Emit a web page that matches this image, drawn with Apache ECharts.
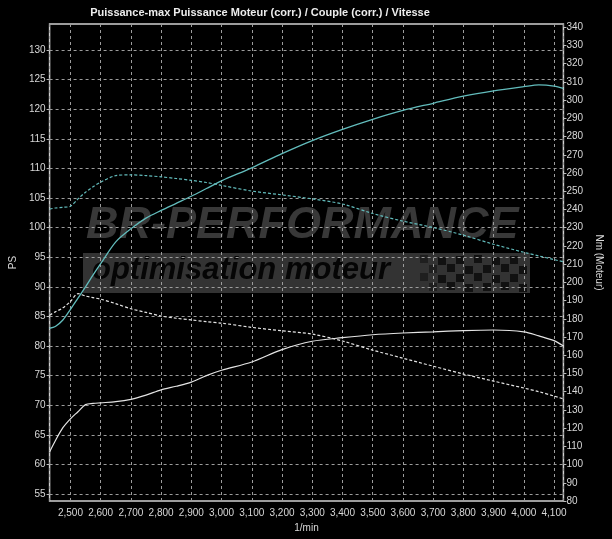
<!DOCTYPE html>
<html>
<head>
<meta charset="utf-8">
<script src="https://cdn.jsdelivr.net/npm/echarts@6/dist/echarts.min.js"></script>
<style>
html,body{margin:0;padding:0;background:#000;}
#chart{width:612px;height:539px;}
</style>
</head>
<body>
<div id="chart"></div>
<script>
// ---- data ----
var rpm = [2431, 2450, 2475, 2500, 2525, 2550, 2575, 2600, 2650, 2700, 2750, 2800, 2850, 2900, 2950, 3000,
           3100, 3200, 3300, 3400, 3500, 3600, 3700, 3800, 3900, 4000, 4050, 4100, 4131];
// Puissance moteur (corr.) – optimised, PS
var powerTuned = [83.0, 83.3, 84.4, 86.2, 88.1, 90.0, 92.0, 93.9, 97.6, 99.8, 101.6, 102.9, 104.1, 105.3, 106.6, 107.9,
                  110.1, 112.5, 114.7, 116.6, 118.3, 119.8, 121.0, 122.2, 123.1, 123.8, 124.1, 123.9, 123.5];
// Couple (corr.) – optimised, Nm
var torqueTuned = [240.2, 240.8, 241.2, 241.8, 245.8, 249.5, 252.5, 255.0, 258.6, 259.0, 258.6, 257.9, 257.0, 256.0, 254.8, 253.2,
                   250.1, 248.0, 245.8, 243.0, 237.8, 233.6, 230.1, 225.9, 220.9, 216.5, 214.5, 212.5, 211.3];
// Puissance moteur – origin, PS
var powerStock = [62.1, 64.0, 66.2, 67.7, 68.9, 70.1, 70.3, 70.4, 70.6, 71.0, 71.7, 72.6, 73.2, 73.9, 75.0, 75.9,
                  77.3, 79.4, 80.8, 81.4, 81.9, 82.2, 82.4, 82.6, 82.7, 82.4, 81.7, 80.9, 80.0];
// Couple – origin, Nm
var torqueStock = [182.0, 183.8, 186.0, 189.5, 193.8, 192.5, 191.6, 190.8, 188.3, 185.5, 183.5, 181.5, 180.3, 179.4, 178.4, 177.6,
                   175.3, 173.4, 171.6, 167.8, 162.8, 158.4, 154.0, 149.7, 145.8, 142.0, 140.0, 137.6, 136.0];

var titleText = 'Puissance-max Puissance Moteur (corr.) / Couple (corr.) / Vitesse';
var xName = '1/min';
var leftName = 'PS';
var rightName = 'Nm (Moteur)';
var wmTitle = 'BR-PERFORMANCE';
var wmSub = 'optimisation moteur';

function pairs(xs, ys) { return xs.map(function (x, i) { return [x, ys[i]]; }); }

var FONT = "'Liberation Sans Narrow', 'Liberation Sans', Arial, sans-serif";
var labelColor = '#d8d8d8';
var gridLine = { show: true, lineStyle: { color: '#9c9c9c', width: 1, type: [3, 3] } };

// checkered flag decoration inside the watermark band
var flag = [];
var sq = 9;
for (var r = 0; r < 4; r++) {
  for (var c = 0; c < 12; c++) {
    if ((r + c) % 2 === 0) {
      flag.push({ type: 'rect', z: -5, silent: true,
        shape: { x: 420 + c * sq, y: 255 + r * sq + (c % 3), width: sq - 1, height: sq - 1 },
        style: { fill: '#0c0c0c', opacity: c < 2 ? 0.5 : 0.85 } });
    }
  }
}

var chart = echarts.init(document.getElementById('chart'), null, { renderer: 'canvas' });
chart.setOption({
  backgroundColor: '#000000',
  animation: false,
  title: {
    text: titleText,
    left: 255, top: 2, textAlign: 'center',
    textStyle: { color: '#ececec', fontSize: 11, fontWeight: 'bold', fontFamily: FONT }
  },
  graphic: [
    { type: 'text', z: -5, silent: true, x: 86, y: 203,
      style: { text: wmTitle, fill: '#383838', font: "italic bold 45px 'Liberation Sans', Arial, sans-serif" } },
    { type: 'rect', z: -6, silent: true, shape: { x: 83, y: 253, width: 447, height: 40 },
      style: { fill: '#333333' } },
    { type: 'text', z: -5, silent: true, x: 92, y: 255,
      style: { text: wmSub, fill: '#050505', font: "italic bold 31px 'Liberation Sans', Arial, sans-serif" } }
  ].concat(flag),
  grid: {
    left: 42, right: 43, top: 24, bottom: 38,
    show: true, borderColor: '#cfcfcf', borderWidth: 1.5, backgroundColor: 'transparent'
  },
  xAxis: {
    type: 'value', min: 2431, max: 4131, splitNumber: 17, minInterval: 100, maxInterval: 100,
    name: xName, nameLocation: 'middle', nameGap: 19,
    nameTextStyle: { color: labelColor, fontSize: 10, fontFamily: FONT },
    axisLine: { show: false }, axisTick: { show: false },
    axisLabel: { color: labelColor, fontSize: 10, fontFamily: FONT, margin: 7,
      showMinLabel: false, showMaxLabel: false,
      formatter: function (v) { return String(Math.round(v)).replace(/\B(?=(\d{3})+(?!\d))/g, ','); } },
    splitLine: gridLine
  },
  yAxis: [
    {
      type: 'value', position: 'left', min: 53.82, max: 134.39, splitNumber: 16, minInterval: 5, maxInterval: 5,
      name: leftName, nameLocation: 'middle', nameGap: 27,
      nameTextStyle: { color: labelColor, fontSize: 10, fontFamily: FONT },
      axisLine: { show: false },
      axisTick: { show: true, length: 3, lineStyle: { color: '#bbbbbb' } },
      axisLabel: { color: labelColor, fontSize: 10, fontFamily: FONT, margin: 4,
        showMinLabel: false, showMaxLabel: false },
      splitLine: gridLine
    },
    {
      type: 'value', position: 'right', min: 80, max: 341.8, interval: 10,
      name: rightName, nameLocation: 'middle', nameGap: 27, nameRotate: -90,
      nameTextStyle: { color: labelColor, fontSize: 10, fontFamily: FONT },
      axisLine: { show: false },
      axisTick: { show: true, length: 3, lineStyle: { color: '#bbbbbb' } },
      axisLabel: { color: labelColor, fontSize: 10, fontFamily: FONT, margin: 3,
        showMaxLabel: false },
      splitLine: { show: false }
    }
  ],
  series: [
    { name: 'Puissance Moteur (corr.)', type: 'line', yAxisIndex: 0, data: pairs(rpm, powerTuned),
      showSymbol: false, smooth: 0.3, lineStyle: { color: '#62bcbc', width: 1.3 }, z: 4 },
    { name: 'Couple (corr.)', type: 'line', yAxisIndex: 1, data: pairs(rpm, torqueTuned),
      showSymbol: false, smooth: 0.3, lineStyle: { color: '#62bcbc', width: 1.2, type: [3, 2] }, z: 4 },
    { name: 'Puissance Moteur origine', type: 'line', yAxisIndex: 0, data: pairs(rpm, powerStock),
      showSymbol: false, smooth: 0.3, lineStyle: { color: '#e4e4e4', width: 1.2 }, z: 3 },
    { name: 'Couple origine', type: 'line', yAxisIndex: 1, data: pairs(rpm, torqueStock),
      showSymbol: false, smooth: 0.3, lineStyle: { color: '#e4e4e4', width: 1.2, type: [3, 2] }, z: 3 }
  ]
});
</script>
</body>
</html>
